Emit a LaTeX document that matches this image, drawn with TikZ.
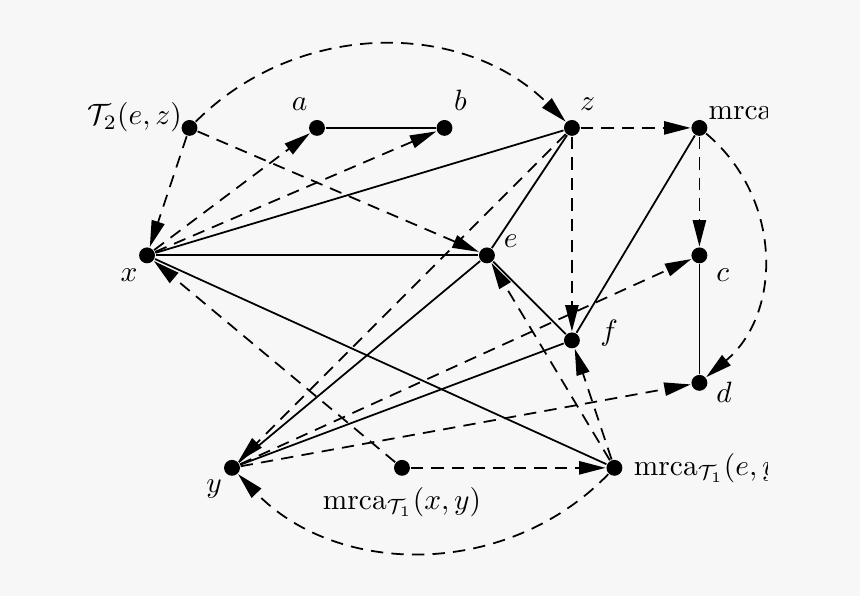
\documentclass[tikz,border=0pt]{standalone}
\usetikzlibrary{arrows.meta}
\definecolor{bgcol}{HTML}{F7F7F7}
\tikzset{
  vtx/.style={circle,fill=black,inner sep=0pt,minimum size=5.4pt},
  dsh/.style={dash pattern=on 4.2pt off 2.8pt,-{Triangle[length=9pt,width=4.5pt]}}
}

\begin{document}
\begin{tikzpicture}[x=0.508cm,y=0.508cm,semithick]
    \path[use as bounding box,fill=bgcol] (-3.46,-3.01) rectangle (16.78,11.01);

    \begin{scope}
      \clip (-3.46,-3.01) rectangle (14.61,11.01);

      % vertices
      \node[vtx,label={[xshift=4pt,yshift=3.5pt]left:{$\mathcal{T}_2(e,z)$}}] (T2) at (1,8) {};
      \node[vtx,label={[xshift=2.5pt]above left:$a$}] (a) at (4,8) {};
      \node[vtx,label={[xshift=-2.5pt]above right:$b$}] (b) at (7,8) {};
      \node[vtx,label={[xshift=-3pt]above right:$z$}] (z) at (10,8) {};
      \node[vtx,label={[xshift=-3.5pt,yshift=5pt]right:mrca}] (mtop) at (13,8) {};
      \node[vtx,label={[xshift=2.5pt,yshift=1.3pt]below left:$x$}] (x) at (0,5) {};
      \node[vtx,label={[yshift=-3pt]above right:$e$}] (e) at (8,5) {};
      \node[vtx,label={[yshift=1.3pt]below right:$c$}] (c) at (13,5) {};
      \node[vtx,label={[label distance=3pt,yshift=2.5pt]right:$f$}] (f) at (10,3) {};
      \node[vtx,label={[yshift=5.9pt]below right:$d$}] (d) at (13,2) {};
      \node[vtx,label={[xshift=2.3pt,yshift=1.6pt]below left:$y$}] (y) at (2,0) {};
      \node[vtx,label={below:{$\mathrm{mrca}_{\mathcal{T}_1}(x,y)$}}] (mxy) at (6,0) {};
      \node[vtx,label={right:{$\mathrm{mrca}_{\mathcal{T}_1}(e,y)$}}] (mey) at (11,0) {};

      % solid edges
      \draw (a) -- (b);
      \draw (x) -- (z);
      \draw (x) -- (e);
      \draw (x) -- (mey);
      \draw (e) -- (z);
      \draw (e) -- (y);
      \draw (f) -- (e);
      \draw (y) -- (f);
      \draw (f) -- (mtop);
      \draw (c) -- (d);

      % dashed arrows
      \draw[dsh] (T2) to[bend left=45] (z);
      \draw[dsh] (T2) -- (x);
      \draw[dsh] (T2) -- (e);
      \draw[dsh] (x) -- (a);
      \draw[dsh] (x) -- (b);
      \draw[dsh] (z) -- (mtop);
      \draw[dsh] (z) -- (f);
      \draw[dsh] (z) -- (y);
      \draw[dsh] (mtop) -- (c);
      \draw[dsh] (mtop) to[out=-40,in=40,looseness=1.05] (d);
      \draw[dsh] (y) -- (c);
      \draw[dsh] (y) -- (d);
      \draw[dsh] (mxy) -- (x);
      \draw[dsh] (mxy) -- (mey);
      \draw[dsh] (mey) to[bend left=46] (y);
      \draw[dsh] (mey) -- (e);
      \draw[dsh] (mey) -- (f);
    \end{scope}
  \end{tikzpicture}
\end{document}
